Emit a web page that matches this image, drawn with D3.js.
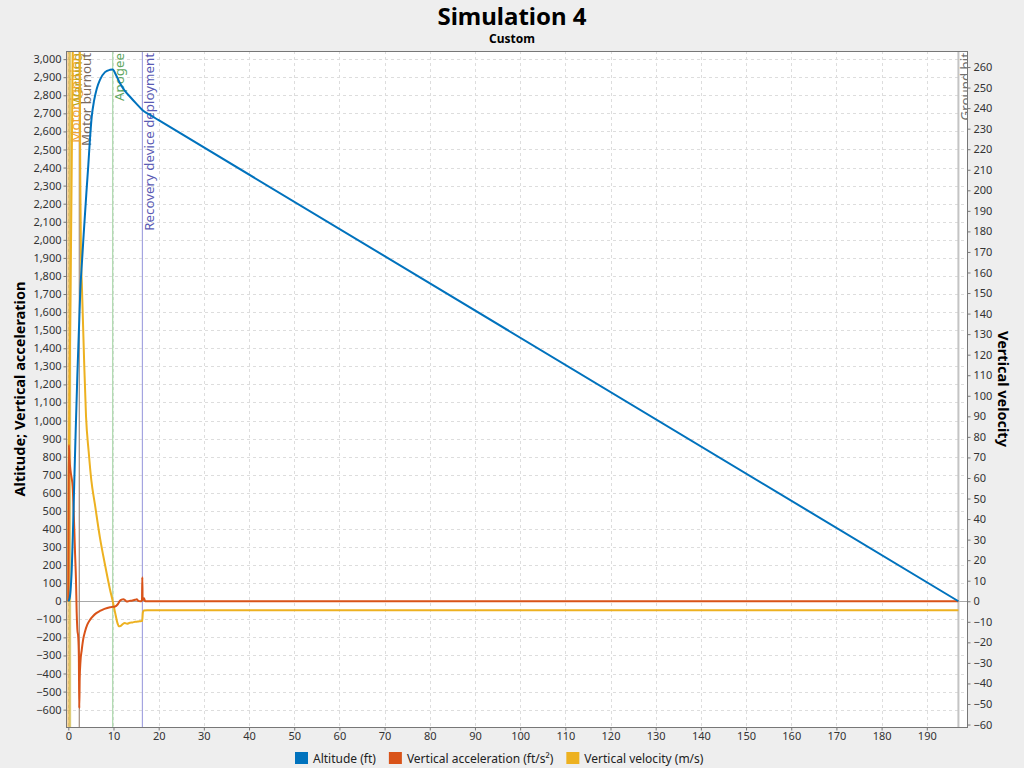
<!DOCTYPE html>
<html>
<head>
<meta charset="utf-8">
<script src="https://cdn.jsdelivr.net/npm/d3@7"></script>
<style>
  body { margin: 0; background: #eeeeee; }
  svg { display: block; font-family: "Noto Sans", "DejaVu Sans", sans-serif; }
</style>
</head>
<body>
<div id="chart"></div>
<script>
// ---- data (time in s) ----
const altitude = [ // ft, left axis
  [0, 0], [0.25, 12], [0.5, 60], [0.75, 170], [1.0, 360], [1.33, 670], [1.64, 950],
  [2.0, 1250], [2.43, 1560], [2.66, 1724], [3.03, 1880], [3.4, 2030], [4.0, 2260],
  [4.43, 2415], [4.8, 2560], [5.18, 2680], [5.7, 2770], [6.28, 2835], [7.0, 2885],
  [8.12, 2928], [9.23, 2941], [9.83, 2943], [10.5, 2915], [11.44, 2867], [12.5, 2825],
  [13.66, 2792], [15.0, 2755], [16.38, 2719], [18.1, 2691], [20, 2662], [197, 0]
];
const acceleration = [ // ft/s², left axis
  [0, 0], [0.05, 350], [0.12, 865], [0.25, 790], [0.5, 720], [0.75, 680], [0.97, 634],
  [1.15, 520], [1.33, 395], [1.5, 260], [1.7, 118], [1.85, -60], [2.0, -155], [2.2, -200],
  [2.33, -300], [2.43, -592], [2.52, -430], [2.7, -330], [2.97, -270], [3.3, -210],
  [3.7, -168], [4.2, -130], [4.8, -103], [5.5, -82], [6.2, -66], [7.0, -54], [8.0, -42],
  [9.24, -33], [9.83, -31], [10.35, -29], [10.9, -18], [11.44, 3], [11.8, 9], [12.17, 11],
  [12.6, 5], [12.93, -2], [13.5, 2], [14.0, 3], [14.39, 5], [14.8, 8], [15.14, 11],
  [15.5, 2], [15.87, 0], [16.3, 1], [16.38, 133], [16.45, 5], [16.76, 17], [17.0, 0],
  [197, 0]
];
const velocity = [ // m/s, right axis
  [0, 0], [0.1, 60], [0.3, 110], [0.5, 150], [0.75, 210], [0.95, 262], [1.3, 310],
  [1.8, 330], [2.3, 325], [2.5, 300], [2.58, 240], [2.65, 205], [2.8, 170], [3.03, 152],
  [3.5, 117], [3.92, 90], [4.5, 73], [5.09, 59], [5.9, 47], [7.0, 31], [8.1, 18],
  [9.2, 6], [9.83, 0], [10.4, -6], [10.9, -10.8], [11.2, -12.2], [11.6, -12], [12.0, -11.2],
  [12.5, -10.6], [13.0, -10.9], [13.6, -10.5], [14.2, -10.3], [14.8, -10.0], [15.4, -9.9],
  [16.0, -9.7], [16.35, -9.6], [16.5, -5.5], [16.7, -4.5], [17.5, -4.4], [197, -4.35]
];

const eventNames = ['Motor ignition', 'Warning', 'Motor burnout', 'Apogee',
  'Recovery device deployment', 'Ground hit'];
const eventTimes = [0, 0.35, 2.43, 9.83, 16.4, 197];

const seriesNames = ['Altitude (ft)', 'Vertical acceleration (ft/s²)', 'Vertical velocity (m/s)'];

const timeTicks = d3.range(0, 191, 10);
const leftTicks = d3.range(-600, 3001, 100);
const rightTicks = d3.range(-60, 261, 10);

// ---- styles ----
const seriesColors = ['#0072bd', '#d95319', '#edb120'];
const eventLineColors = ['rgba(240,160,40,0.45)', 'rgba(200,170,30,0.6)', '#a08c80',
  '#a8d6a8', '#a4a4e0', '#c4c4c4'];
const eventTextColors = ['#eea236', '#b9a51c', '#7a6a5e', '#5ea65e', '#5a5ab4', '#707070'];

const width = 1024;
const height = 768;
const plot = {left: 67, right: 967, top: 51, bottom: 727};

const svg = d3.select('#chart').append('svg')
  .attr('width', width)
  .attr('height', height);

const x = d3.scaleLinear().domain([-0.29, 198.9]).range([plot.left, plot.right]);
const yLeft = d3.scaleLinear().domain([-696, 3045]).range([plot.bottom, plot.top]);
const yRight = d3.scaleLinear().domain([-61.2, 267.8]).range([plot.bottom, plot.top]);

// plot background
svg.append('rect')
  .attr('x', plot.left).attr('y', plot.top)
  .attr('width', plot.right - plot.left).attr('height', plot.bottom - plot.top)
  .attr('fill', '#ffffff');

svg.append('clipPath').attr('id', 'clip')
  .append('rect')
  .attr('x', plot.left).attr('y', plot.top)
  .attr('width', plot.right - plot.left).attr('height', plot.bottom - plot.top);

// grid
const grid = svg.append('g')
  .attr('stroke', '#dddddd')
  .attr('stroke-width', 1)
  .attr('stroke-dasharray', '3,3');

grid.selectAll('.vgrid').data(timeTicks).join('line')
  .attr('x1', d => Math.round(x(d)) + 0.5).attr('x2', d => Math.round(x(d)) + 0.5)
  .attr('y1', plot.top).attr('y2', plot.bottom);

grid.selectAll('.hgrid').data(leftTicks).join('line')
  .attr('x1', plot.left).attr('x2', plot.right)
  .attr('y1', d => Math.round(yLeft(d)) + 0.5).attr('y2', d => Math.round(yLeft(d)) + 0.5);

// zero line
svg.append('line')
  .attr('x1', plot.left).attr('x2', plot.right)
  .attr('y1', Math.round(yLeft(0)) + 0.5).attr('y2', Math.round(yLeft(0)) + 0.5)
  .attr('stroke', '#a8a8a8');

const inner = svg.append('g').attr('clip-path', 'url(#clip)');

// event markers
const events = eventNames.map((name, i) => ({name, t: eventTimes[i], i}));

inner.selectAll('.event-line').data(events).join('line')
  .attr('x1', d => x(d.t)).attr('x2', d => x(d.t))
  .attr('y1', plot.top).attr('y2', plot.bottom)
  .attr('stroke', d => eventLineColors[d.i])
  .attr('stroke-width', d => (d.i < 2 ? 2.5 : d.i === 5 ? 2 : 1.2));

inner.selectAll('.event-label').data(events).join('text')
  .attr('transform', d => `translate(${x(d.t) + 7},${plot.top + 2}) rotate(-90)`)
  .attr('text-anchor', 'end')
  .attr('dy', '0.35em')
  .attr('font-size', 13.3)
  .attr('fill', d => eventTextColors[d.i])
  .text(d => d.name);

// series
const lineLeft = d3.line().x(d => x(d[0])).y(d => yLeft(d[1])).curve(d3.curveMonotoneX);
const lineRight = d3.line().x(d => x(d[0])).y(d => yRight(d[1])).curve(d3.curveMonotoneX);

inner.append('path').datum(velocity)
  .attr('d', lineRight).attr('fill', 'none')
  .attr('stroke', seriesColors[2]).attr('stroke-width', 2).attr('stroke-linejoin', 'round');

inner.append('path').datum(acceleration)
  .attr('d', lineLeft).attr('fill', 'none')
  .attr('stroke', seriesColors[1]).attr('stroke-width', 2).attr('stroke-linejoin', 'round');

inner.append('path').datum(altitude)
  .attr('d', lineLeft).attr('fill', 'none')
  .attr('stroke', seriesColors[0]).attr('stroke-width', 2).attr('stroke-linejoin', 'round');

// plot border
svg.append('rect')
  .attr('x', plot.left - 0.5).attr('y', plot.top + 0.5)
  .attr('width', plot.right - plot.left + 1).attr('height', plot.bottom - plot.top)
  .attr('fill', 'none').attr('stroke', '#777777');

// axes
function styleAxis(g) {
  g.select('.domain').remove();
  g.selectAll('.tick line').attr('stroke', '#777777');
  g.selectAll('.tick text').attr('fill', '#333333').attr('font-size', 11)
    .attr('font-family', '"Noto Sans", "DejaVu Sans", sans-serif');
}

svg.append('g')
  .attr('transform', `translate(0,${plot.bottom + 0.5})`)
  .call(d3.axisBottom(x).tickValues(timeTicks).tickSize(3).tickPadding(2))
  .call(styleAxis);

svg.append('g')
  .attr('transform', `translate(${plot.left - 0.5},0)`)
  .call(d3.axisLeft(yLeft).tickValues(leftTicks).tickFormat(d3.format(',')).tickSize(3).tickPadding(2))
  .call(styleAxis);

svg.append('g')
  .attr('transform', `translate(${plot.right + 0.5},0)`)
  .call(d3.axisRight(yRight).tickValues(rightTicks).tickSize(3).tickPadding(3))
  .call(styleAxis);

// titles
svg.append('text')
  .attr('x', width / 2).attr('y', 25)
  .attr('text-anchor', 'middle')
  .attr('font-size', 24).attr('font-weight', 'bold').attr('fill', '#000')
  .text('Simulation 4');

svg.append('text')
  .attr('x', width / 2).attr('y', 43)
  .attr('text-anchor', 'middle')
  .attr('font-size', 12).attr('font-weight', 'bold').attr('fill', '#000')
  .text('Custom');

const midY = (plot.top + plot.bottom) / 2;

svg.append('text')
  .attr('transform', `translate(25,${midY}) rotate(-90)`)
  .attr('text-anchor', 'middle')
  .attr('font-size', 14.5).attr('font-weight', 'bold').attr('fill', '#000')
  .text('Altitude; Vertical acceleration');

svg.append('text')
  .attr('transform', `translate(998,${midY}) rotate(90)`)
  .attr('text-anchor', 'middle')
  .attr('font-size', 14.5).attr('font-weight', 'bold').attr('fill', '#000')
  .text('Vertical velocity');

// legend
const legend = svg.append('g').attr('transform', 'translate(295,752)');
let lx = 0;
seriesNames.forEach((name, i) => {
  legend.append('rect')
    .attr('x', lx).attr('y', 0).attr('width', 13).attr('height', 12)
    .attr('fill', seriesColors[i]);
  const t = legend.append('text')
    .attr('x', lx + 18).attr('y', 10.5)
    .attr('font-size', 12).attr('fill', '#222')
    .text(name);
  lx += 18 + t.node().getComputedTextLength() + 13;
});
</script>
</body>
</html>
